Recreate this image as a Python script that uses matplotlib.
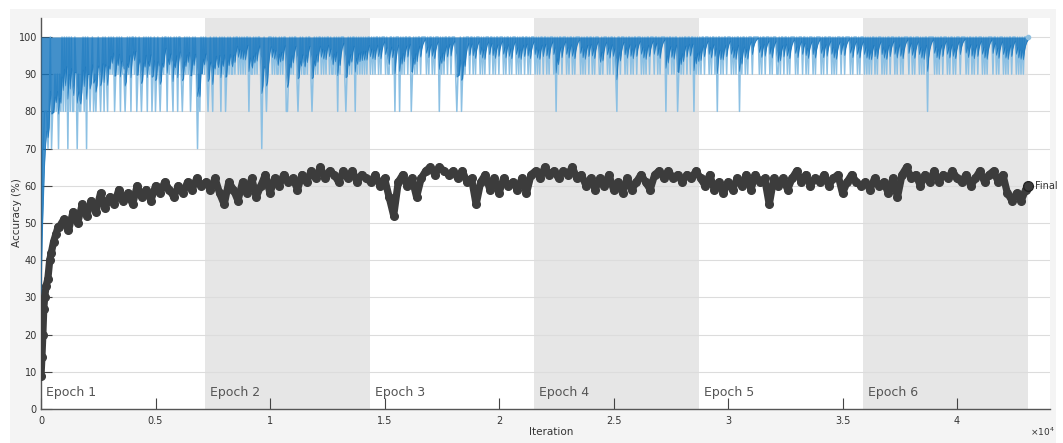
import numpy as np
import matplotlib
matplotlib.use("Agg")
import matplotlib.pyplot as plt
from matplotlib.patches import Rectangle

# ---------------- data ----------------
total_iter = 43100
iters_per_epoch = 7183
epoch_labels = ["Epoch 1", "Epoch 2", "Epoch 3", "Epoch 4", "Epoch 5", "Epoch 6"]

# mini-batch training accuracy pattern per epoch ('X' = 100 %, digit d = d*10 %)
train_e1 = ("35798" "9X9X99X9X9X99X9X9X9X9X99X9X9X99X9X9X9X9X99X9X9X9X9X99X9X9XX9X9X9X99X9X9X9XX9X99"
            "X9X9X9X9X9XX9X99X9X9X9XX9X9X99X9X9XX9X9X9X9X99X9X9X9XX9X9X")
train_e2 = ("9X9X9XX9X99X9X9XX9X9X99X9XX9X9X9X9XX9X99X9X9XX9X9X9X9XXX9X9X99X9X9XX9X9X9X9XX9X9X"
            "9X99X9XX9X9X9X9XX9X9X9XX9X99X9X9X9XXX9X9X9X9XX9X9X9X9X9X9XX9")
train_e3 = ("X9X9XX9X9XXX9X99XX9X9XXX9X9X9XX9XXX9X9X9XX9XXXX9X9XX9X9XXX9X9X9XX9XX9XXX9X99XX9X9"
            "XXX9XX9X9XXX9X9X9XXX9XX9X9XX9XXX9X9XX9X9XXX9X9X9XX9XX9X9XXX9X")
train_e4 = ("9X9XX9XX9X9XXX9X9X9XX9XXX9X9XX9X9XXXX9X9X9XX9XX9X9XXX99X9XXX9X9XX9X9XXX9XXX9X9XX9"
            "X9XX9XXX9X9X9XX9XXX9XX9X9XXXX9X9XX9X9XXX9X9X9XX9XX9XXXX9X9X9X")
train_e5 = ("X9XXX9X9XX9XXXX9X9XX9XXX9X9X9XXXX9XX9X9XXX9XXXXX9X9XX9XXX9X9XXX99X9XX9XX9X9XXXX9X9"
            "XXX9XX9X9XXX9X9XXXX9X9XX9XXX9X9X9XXX9XX9XXXX9X9XXX9X9XXX9X9X")
train_e6 = ("9X9XX9X9XXX9X9X9XX9XXX9X9XX9X9XXXX9XX9X9XXX9X9X9XX9XXXXX9X9X9XX9XXX9X9XX9X9XXX9XXX"
            "X9X9XX9X9XX9XXX9X9X9XXXX9XX9X9XXX9X9X9XX9XXX9X9X9X9XXXX")
# iterations where the mini-batch accuracy fell to 80 % and 70 %
dip80_iter = [131, 175, 218, 262, 349, 437, 524, 568, 655, 786, 873, 961, 1048, 1266, 1354,
              1441, 1659, 1747, 1878, 2140, 2271, 2402, 2577, 2751, 2926, 3232, 3450, 3668,
              3930, 4192, 4411, 4629, 4847, 4978, 5197, 5502, 5764, 5983, 6157, 6507, 6943,
              7293, 7511, 7861, 8079, 9083, 9826, 10699, 10786, 11223, 11835, 12970, 13320,
              13713, 15459, 15634, 16158, 17381, 18167, 18385, 22490, 25154, 27294, 27818,
              28517, 29521, 30525, 38735]
dip70_iter = [44, 306, 480, 742, 1179, 1572, 2009, 6813, 9651]

# validation accuracy
val_early_iter = [0, 40, 80, 120, 160, 220, 300, 380, 450, 550, 650, 750]
val_early_acc = [9, 14, 20, 27, 30, 33, 35, 40, 42, 45, 47, 49]
val_acc = [
    # epoch 1 (from iteration 800, every 200)
    49, 51, 48, 53, 50, 55, 52, 56, 53, 58, 54, 57, 55, 59, 56, 58, 55, 60, 57, 59,
    56, 60, 58, 61, 59, 57, 60, 58, 61, 59, 62, 60,
    # epoch 2
    61, 59, 62, 58, 55, 61, 59, 56, 61, 58, 62, 57, 60, 63, 58, 62, 60, 63, 61, 62,
    59, 63, 61, 64, 62, 65, 62, 64, 63, 61, 64, 62, 64, 61, 63, 62,
    # epoch 3
    61, 63, 60, 62, 57, 52, 61, 63, 60, 62, 57, 62, 64, 65, 63, 65, 64, 63, 64, 62,
    64, 61, 62, 55, 61, 63, 59, 62, 58, 62, 60, 61, 59, 62, 58, 63,
    # epoch 4
    64, 62, 65, 63, 64, 62, 64, 63, 65, 62, 63, 60, 62, 59, 62, 60, 63, 59, 61, 58,
    62, 59, 61, 63, 61, 59, 63, 64, 62, 64, 62, 63, 61, 63, 62, 64,
    # epoch 5
    62, 60, 63, 59, 61, 58, 61, 59, 62, 60, 63, 59, 63, 61, 62, 55, 62, 60, 62, 59,
    62, 64, 61, 63, 60, 62, 61, 63, 60, 62, 63, 58, 61, 63, 61, 60,
    # epoch 6
    61, 59, 62, 60, 61, 58, 62, 57, 63, 65, 62, 63, 60, 63, 61, 64, 61, 63, 62, 64,
    62, 61, 63, 60, 62, 64, 61, 63, 64, 61, 63, 58, 56, 58, 56, 59,
]
val_final_iter = 43100
val_final_acc = 60

xtick_vals = [0, 5000, 10000, 15000, 20000, 25000, 30000, 35000, 40000]
xtick_labels = ["0", "0.5", "1", "1.5", "2", "2.5", "3", "3.5", "4"]
ytick_vals = [0, 10, 20, 30, 40, 50, 60, 70, 80, 90, 100]

# ---------------- build series ----------------
pattern = train_e1 + train_e2 + train_e3 + train_e4 + train_e5 + train_e6
train_acc = np.array([100 if c == "X" else int(c) * 10 for c in pattern], float)
train_iter = np.linspace(0, total_iter, len(train_acc))
for it in dip80_iter:
    train_acc[np.argmin(np.abs(train_iter - it))] = 80
for it in dip70_iter:
    train_acc[np.argmin(np.abs(train_iter - it))] = 70
train_acc[-1] = 100
smooth = np.empty_like(train_acc)
s = train_acc[0]
for i, v in enumerate(train_acc):
    s = 0.6 * s + 0.4 * v if i else v
    smooth[i] = s

val_iter = val_early_iter + list(range(800, 800 + 200 * len(val_acc), 200)) + [val_final_iter]
val_all = val_early_acc + val_acc + [val_final_acc]

# ---------------- figure ----------------
W, H = 1063, 443
fig = plt.figure(figsize=(W / 100, H / 100), dpi=100, facecolor="white")
fig.add_artist(Rectangle((10 / W, 0), (1056 - 10) / W, 1 - 9 / H, transform=fig.transFigure,
                         facecolor="#f4f4f4", edgecolor="none", zorder=-10))
ax = fig.add_axes([41 / W, 1 - 409 / H, (1050 - 41) / W, (409 - 18) / H])
ax.set_facecolor("white")
ax.set_xlim(0, 44060)
ax.set_ylim(0, 105.1)

for k in range(6):
    x0 = k * iters_per_epoch
    if k % 2 == 1:
        ax.axvspan(x0, x0 + iters_per_epoch, color="#e6e6e6", zorder=0, lw=0)
    ax.text(x0 + 200, 4.5, epoch_labels[k], fontsize=9, color="#555555",
            ha="left", va="center", zorder=5)

for y in ytick_vals[1:]:
    ax.axhline(y, color="#dcdcdc", lw=0.8, zorder=1)

ax.plot(train_iter, train_acc, color="#8cc0e3", lw=1.1, zorder=2)
ax.fill_between(train_iter, smooth, 100, color="#1474bd", alpha=0.8, lw=0, zorder=3)
ax.plot(train_iter, smooth, color="#1474bd", lw=0.4, alpha=0.8, zorder=3)
ax.plot([train_iter[-1]], [train_acc[-1]], "o", ms=3, color="#8fc0e0", zorder=3)

ax.plot(val_iter, val_all, color="#3c3c3c", lw=5.2, marker="o", ms=5.5,
        solid_capstyle="round", solid_joinstyle="round", zorder=4)
ax.plot([val_final_iter], [val_final_acc], "o", ms=7, mfc="none", mec="#222222",
        mew=1.0, zorder=6)
ax.text(val_final_iter + 300, val_final_acc, "Final", fontsize=7, color="#333333",
        va="center", ha="left", zorder=6)

for sp in ["top", "right"]:
    ax.spines[sp].set_visible(False)
for sp in ["left", "bottom"]:
    ax.spines[sp].set_color("#555555")
    ax.spines[sp].set_linewidth(1.0)

ax.set_xticks(xtick_vals)
ax.set_xticklabels(xtick_labels)
ax.set_yticks(ytick_vals)
ax.tick_params(direction="in", length=8, width=0.8, color="#444444",
               labelsize=7, labelcolor="#333333")
ax.tick_params(axis="x", pad=5)
ax.tick_params(axis="y", pad=3)

fig.text(551 / W, 1 - 432 / H, "Iteration", fontsize=7.5, color="#333333",
         ha="center", va="center")
fig.text(17 / W, 1 - 213 / H, "Accuracy (%)", fontsize=7.5, color="#333333",
         ha="center", va="center", rotation=90)
fig.text(1042 / W, 1 - 432 / H, r"$\times10^{4}$", fontsize=6.5, color="#333333",
         ha="center", va="center")

fig.savefig("out.png", dpi=100, facecolor=fig.get_facecolor())
